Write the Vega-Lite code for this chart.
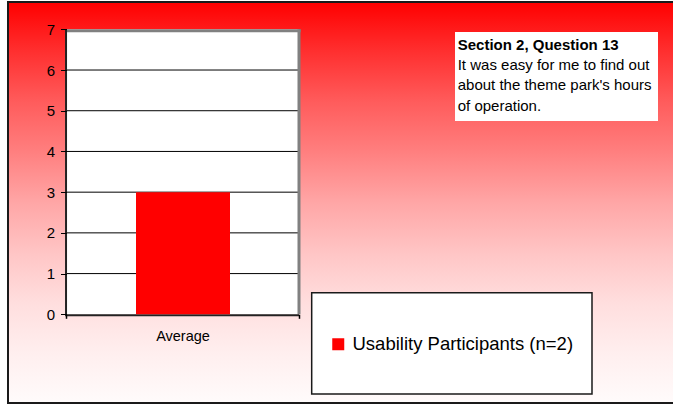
{
  "$schema": "https://vega.github.io/schema/vega-lite/v6.json",
  "width": 673,
  "height": 405,
  "padding": 0,
  "autosize": {"type": "none"},
  "background": "white",
  "config": {"view": {"stroke": null}, "font": "Liberation Sans", "axisY": {"labelFontSize": 15, "labelColor": "#000"}},
  "datasets": {
    "scores": [{"category": "Average", "series": "Usability Participants (n=2)", "value": 3}],
    "grid": [{"g": 1}, {"g": 2}, {"g": 3}, {"g": 4}, {"g": 5}, {"g": 6}]
  },
  "resolve": {"scale": {"x": "independent"}, "axis": {"x": "independent"}},
  "layer": [
    {
      "data": {"values": [{}]},
      "layer": [
        {
          "mark": {
            "type": "rect",
            "fill": {
              "gradient": "linear", "x1": 0, "y1": 0, "x2": 0, "y2": 1,
              "stops": [
                {"offset": 0, "color": "#FF0000"},
                {"offset": 0.12, "color": "#FF2E2E"},
                {"offset": 0.25, "color": "#FF5C5C"},
                {"offset": 0.37, "color": "#FF7E7E"},
                {"offset": 0.5, "color": "#FFA6A6"},
                {"offset": 0.63, "color": "#FFC6C6"},
                {"offset": 0.75, "color": "#FFDEDE"},
                {"offset": 0.88, "color": "#FFEFEF"},
                {"offset": 1, "color": "#FFFBFB"}
              ]
            },
            "stroke": "#1a1a1a",
            "strokeWidth": 2
          },
          "encoding": {
            "x": {
              "datum": -0.2516, "type": "quantitative",
              "scale": {"domain": [-0.28602, 2.6086], "nice": false, "zero": false},
              "axis": {"orient": "bottom", "offset": -90.7, "values": [0, 1], "labels": false, "ticks": true, "tickSize": 4, "tickColor": "#000", "tickWidth": 1.5, "domain": false, "grid": false, "title": null, "zindex": 1}
            },
            "x2": {"datum": 2.62},
            "y": {
              "datum": 7.6706, "type": "quantitative",
              "axis": {"orient": "left", "offset": -66.5, "values": [0, 1, 2, 3, 4, 5, 6, 7], "format": "d", "domain": false, "grid": false, "ticks": true, "tickSize": 6, "tickColor": "#000", "tickWidth": 1, "labelFontSize": 15, "labelColor": "#000", "labelPadding": 6, "labelFont": "Liberation Sans", "labelFlush": false, "labelOverlap": false, "title": null, "zindex": 1}
            },
            "y2": {"datum": -2.1788}
          }
        },
        {
          "mark": {"type": "rect", "fill": "white"},
          "encoding": {
            "x": {"datum": 0, "type": "quantitative"},
            "x2": {"datum": 1},
            "y": {"datum": 0, "type": "quantitative"},
            "y2": {"datum": 7}
          }
        },
        {
          "data": {"name": "grid"},
          "mark": {"type": "rule", "color": "#000", "strokeWidth": 1},
          "encoding": {
            "y": {"field": "g", "type": "quantitative"},
            "x": {"datum": 0, "type": "quantitative"},
            "x2": {"datum": 1}
          }
        },
        {
          "mark": {"type": "rule", "color": "#808080", "strokeWidth": 3},
          "encoding": {
            "y": {"datum": 6.963, "type": "quantitative"},
            "x": {"datum": 0, "type": "quantitative"},
            "x2": {"datum": 1.0073}
          }
        },
        {
          "mark": {"type": "rule", "color": "#808080", "strokeWidth": 3},
          "encoding": {
            "x": {"datum": 1, "type": "quantitative"},
            "y": {"datum": 0, "type": "quantitative"},
            "y2": {"datum": 7}
          }
        },
        {
          "mark": {"type": "rule", "color": "#222", "strokeWidth": 2},
          "encoding": {
            "x": {"datum": -0.002, "type": "quantitative"},
            "y": {"datum": -0.025, "type": "quantitative"},
            "y2": {"datum": 7}
          }
        },
        {
          "mark": {"type": "rule", "color": "#222", "strokeWidth": 2},
          "encoding": {
            "y": {"datum": -0.025, "type": "quantitative"},
            "x": {"datum": -0.006, "type": "quantitative"},
            "x2": {"datum": 1}
          }
        },
        {
          "mark": {"type": "rect", "fill": "white"},
          "encoding": {
            "x": {"datum": 1.671, "type": "quantitative"},
            "x2": {"datum": 2.5441},
            "y": {"datum": 6.934, "type": "quantitative"},
            "y2": {"datum": 4.7475}
          }
        },
        {
          "mark": {"type": "text", "align": "left", "baseline": "alphabetic", "fontSize": 15, "fontWeight": "bold", "color": "#000", "font": "Liberation Sans"},
          "encoding": {
            "x": {"datum": 1.6826, "type": "quantitative"},
            "y": {"datum": 6.4915, "type": "quantitative"},
            "text": {"value": "Section 2, Question 13"}
          }
        },
        {
          "mark": {"type": "text", "align": "left", "baseline": "alphabetic", "fontSize": 15, "lineHeight": 20.4, "color": "#000", "font": "Liberation Sans"},
          "encoding": {
            "x": {"datum": 1.6826, "type": "quantitative"},
            "y": {"datum": 6.0, "type": "quantitative"},
            "text": {"value": ["It was easy for me to find out", "about the theme park's hours", "of operation."]}
          }
        },
        {
          "mark": {"type": "rect", "fill": "white", "stroke": "#1a1a1a", "strokeWidth": 1.5},
          "encoding": {
            "x": {"datum": 1.0546, "type": "quantitative"},
            "x2": {"datum": 2.2602},
            "y": {"datum": 0.5298, "type": "quantitative"},
            "y2": {"datum": -1.9585}
          }
        }
      ]
    },
    {
      "data": {"name": "scores"},
      "mark": {"type": "bar"},
      "encoding": {
        "x": {
          "field": "category", "type": "nominal",
          "scale": {"paddingInner": 0.6753, "paddingOuter": 1, "align": 0.23489, "round": false},
          "axis": {"orient": "bottom", "offset": -90.7, "title": null, "ticks": false, "tickSize": 0, "domain": false, "labelAngle": 0, "labelFontSize": 14.5, "labelColor": "#000", "labelPadding": 15, "labelFont": "Liberation Sans", "zindex": 1}
        },
        "y": {
          "field": "value", "type": "quantitative", "stack": null,
          "scale": {"domain": [-2.2277, 7.7197], "nice": false, "zero": false}
        },
        "color": {
          "field": "series", "type": "nominal",
          "scale": {"range": ["#FF0000"]},
          "legend": {"orient": "none", "legendX": 329, "legendY": 335, "title": null, "symbolType": "square", "symbolSize": 144, "symbolStrokeWidth": 0, "labelFontSize": 18.5, "labelFont": "Liberation Sans", "labelColor": "#000", "labelLimit": 400, "labelOffset": 5, "padding": 0, "zindex": 1}
        }
      }
    }
  ]
}
